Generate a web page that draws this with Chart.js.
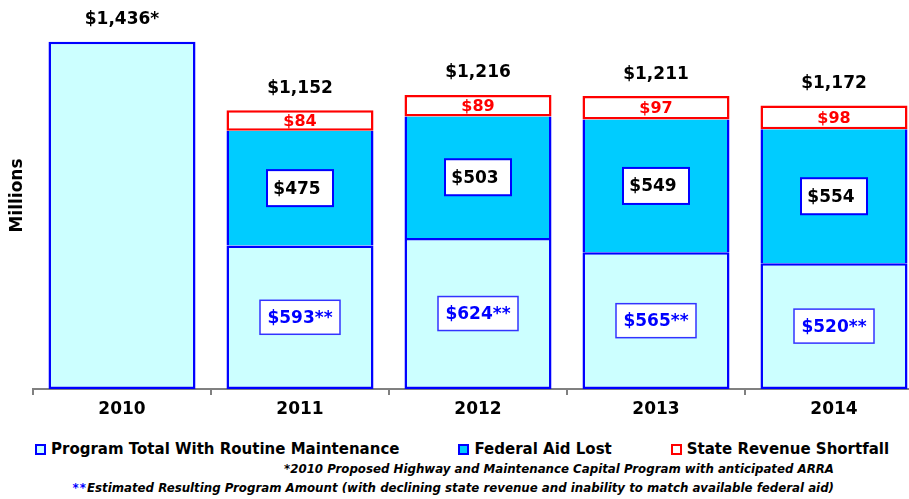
<!DOCTYPE html>
<html>
<head>
<meta charset="utf-8">
<script src="https://cdn.jsdelivr.net/npm/chart.js@4.4.1/dist/chart.umd.min.js"></script>
<style>
    html, body { margin: 0; padding: 0; background: #fff; overflow: hidden; }
    body { width: 909px; height: 499px; position: relative; font-family: "DejaVu Sans", sans-serif; }
    #wrap { position: absolute; left: 0; top: 0; width: 926px; height: 430px; }
    #legend { position: absolute; left: 35px; top: 440px; display: flex; gap: 59px; white-space: nowrap;
              font-weight: bold; font-size: 15px; line-height: 18px; color: #000; }
    .item { display: flex; align-items: center; }
    .box { width: 11px; height: 11px; box-sizing: border-box; border: 2px solid; margin-right: 5px; }
    .note { position: absolute; right: 75px; font-weight: bold; font-style: italic; font-size: 11.8px;
            line-height: 14px; color: #000; white-space: nowrap; }
    .note .star { color: #0000ff; letter-spacing: 1px; }
</style>
</head>
<body>
<div id="wrap"><canvas id="chart"></canvas></div>
<div id="legend"></div>
<div class="note" style="top:462px">*2010 Proposed Highway and Maintenance Capital Program with anticipated ARRA</div>
<div class="note" style="top:481px"><span class="star">**</span>Estimated Resulting Program Amount (with declining state revenue and inability to match available federal aid)</div>

<script>
// Data
const years = ['2010', '2011', '2012', '2013', '2014'];
const programTotal = [1436, 593, 624, 565, 520];
const federalAidLost = [null, 475, 503, 549, 554];
const stateShortfall = [null, 84, 89, 97, 98];
const seriesNames = ['Program Total With Routine Maintenance', 'Federal Aid Lost', 'State Revenue Shortfall'];

const BLUE = '#0000ff';
const RED = '#ff0000';

function money(v) {
    return '$' + v.toLocaleString('en-US');
}

function drawBox(ctx, cx, cy, w, h, lineWidth, stroke) {
    ctx.fillStyle = '#ffffff';
    ctx.fillRect(cx - w / 2, cy - h / 2, w, h);
    ctx.lineWidth = lineWidth;
    ctx.strokeStyle = stroke;
    ctx.strokeRect(cx - w / 2, cy - h / 2, w, h);
}

// Value labels on and above the bars
const valueLabels = {
    id: 'valueLabels',
    afterDatasetsDraw(chart) {
        const ctx = chart.ctx;
        const base = chart.getDatasetMeta(0).data;
        const mid = chart.getDatasetMeta(1).data;
        const top = chart.getDatasetMeta(2).data;
        ctx.save();
        ctx.textAlign = 'center';
        ctx.textBaseline = 'middle';

        years.forEach((year, i) => {
            const x = base[i].x;
            const hasStack = federalAidLost[i] !== null;
            const topY = hasStack ? top[i].y : base[i].y;
            const total = programTotal[i] + (federalAidLost[i] || 0) + (stateShortfall[i] || 0);

            ctx.font = 'bold 17px "DejaVu Sans"';
            ctx.fillStyle = '#000';
            ctx.fillText(money(total) + (hasStack ? '' : '*'), x, topY - 22);

            if (!hasStack) return;

            // state shortfall
            ctx.font = 'bold 16px "DejaVu Sans"';
            ctx.fillStyle = RED;
            ctx.fillText(money(stateShortfall[i]), x, (top[i].y + top[i].base) / 2 + 1);

            // federal aid lost
            const my = (mid[i].y + mid[i].base) / 2;
            drawBox(ctx, x, my, 66, 36, 2, BLUE);
            ctx.font = 'bold 17px "DejaVu Sans"';
            ctx.fillStyle = '#000';
            ctx.fillText(money(federalAidLost[i]), x - 3, my + 1);

            // resulting program
            const by = (base[i].y + base[i].base) / 2;
            drawBox(ctx, x, by, 80, 34, 1.5, '#3333ff');
            ctx.fillStyle = BLUE;
            ctx.fillText(money(programTotal[i]) + '**', x, by + 1);
        });
        ctx.restore();
    }
};

const datasets = [
    {
        label: seriesNames[0],
        data: programTotal,
        backgroundColor: '#ccffff',
        borderColor: BLUE,
        borderWidth: 2.5,
        borderSkipped: false
    },
    {
        label: seriesNames[1],
        data: federalAidLost,
        backgroundColor: '#00ccff',
        borderColor: BLUE,
        borderWidth: { top: 0, bottom: 0, left: 2.5, right: 2.5 },
        borderSkipped: false
    },
    {
        label: seriesNames[2],
        data: stateShortfall,
        backgroundColor: '#ffffff',
        borderColor: RED,
        borderWidth: 2.5,
        borderSkipped: false
    }
];

new Chart(document.getElementById('chart'), {
    type: 'bar',
    data: { labels: years, datasets: datasets },
    options: {
        responsive: true,
        maintainAspectRatio: false,
        animation: false,
        layout: { padding: { left: 33, right: 3, top: 2, bottom: 0 } },
        datasets: { bar: { barPercentage: 0.826, categoryPercentage: 1 } },
        plugins: {
            legend: { display: false },
            tooltip: { enabled: false }
        },
        scales: {
            x: {
                stacked: true,
                afterFit: (scale) => { scale.height = 41; },
                border: { color: '#808080', width: 2 },
                grid: { offset: true, drawOnChartArea: false, tickLength: 6, color: '#808080', lineWidth: 2 },
                ticks: { color: '#000', font: { family: 'DejaVu Sans', size: 17, weight: 'bold' }, padding: 4 }
            },
            y: {
                stacked: true,
                display: false,
                min: 0,
                max: 1600
            }
        }
    },
    plugins: [valueLabels, {
        id: 'yTitle',
        afterDraw(chart) {
            const ctx = chart.ctx;
            ctx.save();
            ctx.translate(18, (chart.chartArea.top + chart.chartArea.bottom) / 2);
            ctx.rotate(-Math.PI / 2);
            ctx.textAlign = 'center';
            ctx.textBaseline = 'middle';
            ctx.font = 'bold 17px "DejaVu Sans"';
            ctx.fillStyle = '#000';
            ctx.fillText('Millions', 0, 0);
            ctx.restore();
        }
    }]
});

// Legend
document.getElementById('legend').innerHTML = datasets.map(ds => `
    <div class="item"><span class="box" style="background:${ds.backgroundColor};border-color:${ds.borderColor}"></span>${ds.label}</div>
`).join('');
</script>
</body>
</html>
